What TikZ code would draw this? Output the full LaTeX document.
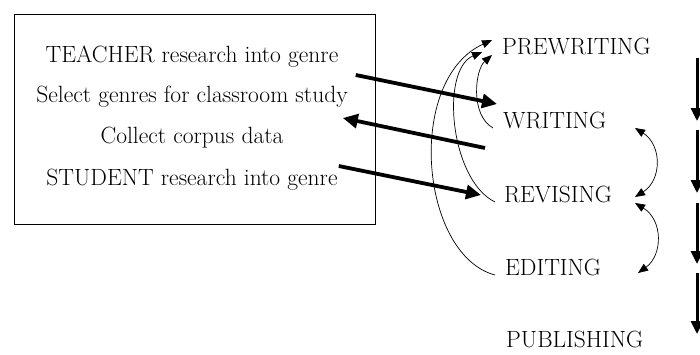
\documentclass[tikz,border=0pt]{standalone}
\usetikzlibrary{arrows.meta,calc}
\begin{document}
\begin{tikzpicture}[x=1pt,y=-1pt,
  lbl/.style={font=\fontsize{23.5}{28}\selectfont, inner sep=0pt, anchor=base},
  stage/.style={lbl, anchor=base west},
  bigarrow/.style={line width=3.8pt, -{Triangle[length=15pt,width=14pt]}},
  downarrow/.style={line width=3pt, -{Triangle[length=13pt,width=12pt]}},
  thinarrow/.style={line width=0.7pt, -{Triangle[length=10pt,width=8pt]}},
  dblarrow/.style={line width=0.7pt, {Triangle[length=10pt,width=8pt]}-{Triangle[length=10pt,width=8pt]}}]
\useasboundingbox (0,0) rectangle (700,354);

% left box
\node[draw, line width=0.8pt, minimum width=361pt, minimum height=210pt, anchor=north west, inner sep=0pt] (box) at (14,14) {};
\node[lbl] (t1) at (192,62) {TEACHER research into genre};
\node[lbl] (t2) at (192,102) {Select genres for classroom study};
\node[lbl] (t3) at (192,143) {Collect corpus data};
\node[lbl] (t4) at (192,185) {STUDENT research into genre};

% stages
\node[stage] (pre) at (502,54) {PREWRITING};
\node[stage] (wri) at (503,128) {WRITING};
\node[stage] (rev) at (504,202) {REVISING};
\node[stage] (edi) at (505,275) {EDITING};
\node[stage] (pub) at (506,347) {PUBLISHING};

% thick arrows
\draw[bigarrow] ([shift={(-20,61)}]box.north east) -- ([shift={(-6,-24)}]wri.base west);
\draw[bigarrow] ([shift={(-18,20)}]wri.base west) -- ([shift={(-33,104)}]box.north east);
\draw[bigarrow] ([shift={(-37,152)}]box.north east) -- ([shift={(-23,-7)}]rev.base west);

% thin curved arrows back to prewriting
\draw[thinarrow] ([shift={(-10,0)}]wri.base west) .. controls (470,115) and (475,70) .. ([shift={(-10,1)}]pre.base west);
\draw[thinarrow] ([shift={(-9,0)}]rev.base west) .. controls (450,180) and (440,70) .. ([shift={(-20,-2)}]pre.base west);
\draw[thinarrow] ([shift={(-10,0)}]edi.base west) .. controls (420,255) and (405,80) .. ([shift={(-10,-14)}]pre.base west);

% double arrows on the right
\coordinate (wr1) at (635,128);
\coordinate (rv1) at (635,197);
\coordinate (rv2) at (635,203);
\coordinate (ed1) at (638,273);
\draw[dblarrow] (wr1) .. controls (662,145) and (662,180) .. (rv1);
\draw[dblarrow] (rv2) .. controls (663,220) and (663,255) .. (ed1);

% vertical arrows at the right edge
\coordinate (v1a) at (697,58);  \coordinate (v1b) at (697,121);
\coordinate (v2a) at (697,130); \coordinate (v2b) at (697,193);
\coordinate (v3a) at (697,203); \coordinate (v3b) at (697,264);
\coordinate (v4a) at (697,273); \coordinate (v4b) at (697,334);
\draw[downarrow] (v1a) -- (v1b);
\draw[downarrow] (v2a) -- (v2b);
\draw[downarrow] (v3a) -- (v3b);
\draw[downarrow] (v4a) -- (v4b);
\end{tikzpicture}
\end{document}
